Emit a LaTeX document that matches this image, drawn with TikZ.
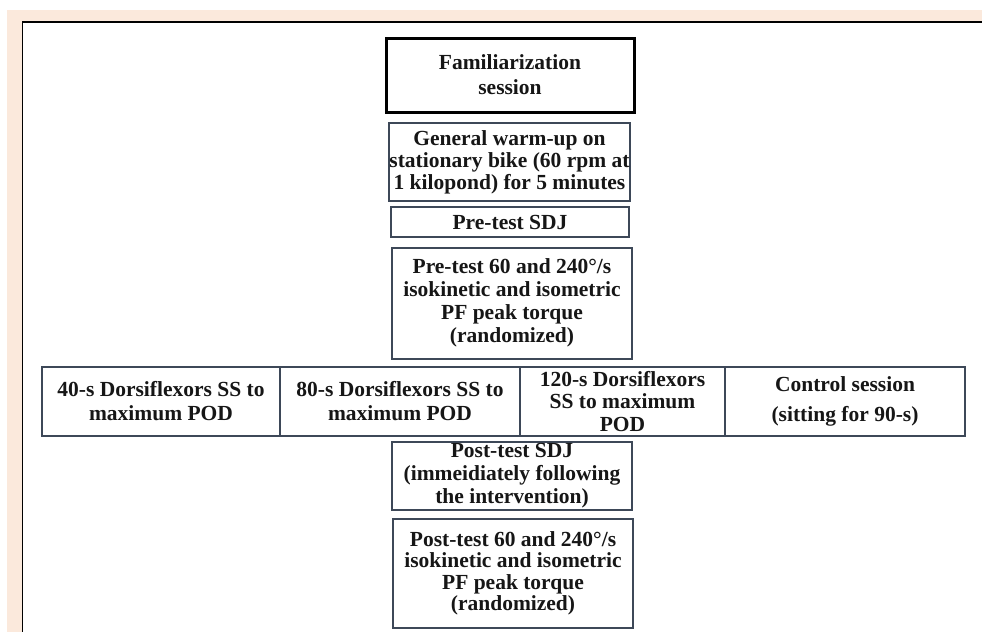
\documentclass[tikz,border=0pt]{standalone}
\usepackage{fontspec}
\setmainfont{Liberation Serif}
\usepackage{xcolor}
\definecolor{Paper}{HTML}{FBE9DC}
\definecolor{Edge}{HTML}{3D4858}
\definecolor{Ink}{HTML}{161616}

\tikzset{
  stagebox/.style={draw=Edge,line width=2pt,fill=white,align=center,inner sep=0pt,
    text=Ink,font=\bfseries\fontsize{21.5}{23}\selectfont},
  headbox/.style={stagebox,draw=black,line width=3pt,font=\bfseries\fontsize{21.5}{25}\selectfont},
  armbox/.style={stagebox,minimum height=69,font=\bfseries\fontsize{21.5}{24}\selectfont},
}

\begin{document}
\begin{tikzpicture}[x=1pt,y=-1pt]
\useasboundingbox (0,0) rectangle (982,632);
% page frame
\fill[Paper] (7,10) rectangle (982,632);
\fill[white] (22.5,22) rectangle (982,632);
\draw[black,line width=1.3pt] (982,22) -- (22.5,22) -- (22.5,632);
% sequence down the middle
\node[headbox,minimum width=248,minimum height=74] (fam) at (510,75) {Familiarization\\session};
\node[stagebox,minimum width=239,minimum height=78,font=\bfseries\fontsize{21.5}{22}\selectfont] (warm) at (509.5,162) {General warm-up on\\stationary bike (60 rpm at\\1 kilopond) for 5 minutes};
\node[stagebox,minimum width=238,minimum height=30] (presdj) at (510,222) {Pre-test SDJ};
\node[stagebox,minimum width=240,minimum height=111] (pretorq) at (512,303) {Pre-test 60 and 240°/s\\isokinetic and isometric\\PF peak torque\\(randomized)};
% interventions
\node[armbox,minimum width=238] (ss40) at (161,401.5) {40-s Dorsiflexors SS to\\maximum POD};
\node[armbox,minimum width=240] (ss80) at (400,401.5) {80-s Dorsiflexors SS to\\maximum POD};
\node[armbox,minimum width=205,font=\bfseries\fontsize{21.5}{22.5}\selectfont] (ss120) at (622.5,401.5) {120-s Dorsiflexors\\SS to maximum\\POD};
\node[armbox,minimum width=240,font=\bfseries\fontsize{21.5}{30}\selectfont] (ctrl) at (845,401.5) {Control session\\(sitting for 90-s)};
% post tests
\node[stagebox,minimum width=240,minimum height=68] (postsdj) at (512,476) {Post-test SDJ\\(immeidiately following\\the intervention)};
\node[stagebox,minimum width=240,minimum height=109,font=\bfseries\fontsize{21.5}{21.5}\selectfont] (posttorq) at (513,573.5) {Post-test 60 and 240°/s\\isokinetic and isometric\\PF peak torque\\(randomized)};
\end{tikzpicture}
\end{document}
